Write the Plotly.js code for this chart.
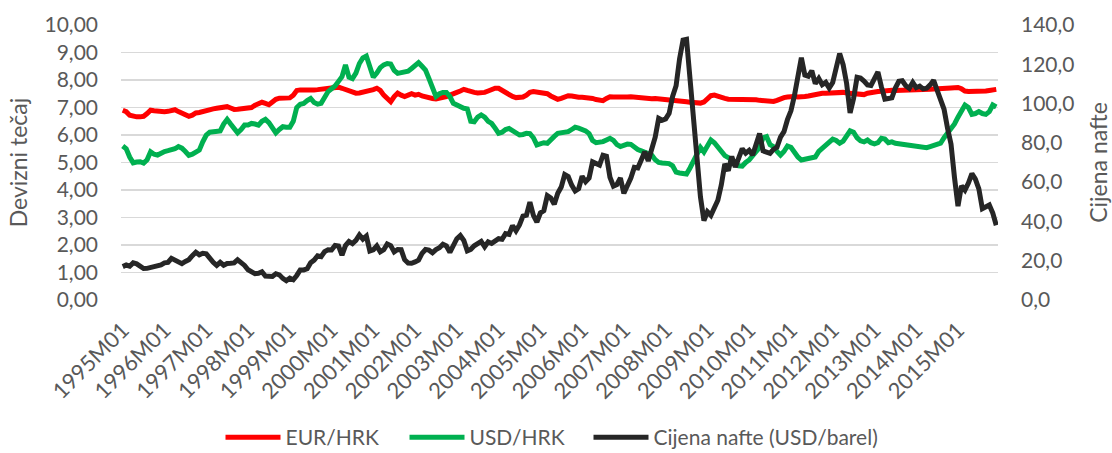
<!DOCTYPE html>
<html><head><meta charset="utf-8">
<script src="https://cdn.plot.ly/plotly-3.0.1.min.js"></script>
<style>html,body{margin:0;padding:0;background:#fff}#chart{width:1112px;height:453px}</style>
</head><body><div id="chart"></div>
<script>
const years = [1995,1996,1997,1998,1999,2000,2001,2002,2003,2004,2005,2006,2007,2008,2009,2010,2011,2012,2013,2014,2015];
const monthCodes = ['M01','M02','M03','M04','M05','M06','M07','M08','M09','M10','M11','M12'];
const tickLabels = ['1995M01','1996M01','1997M01','1998M01','1999M01','2000M01','2001M01','2002M01','2003M01','2004M01','2005M01','2006M01','2007M01','2008M01','2009M01','2010M01','2011M01','2012M01','2013M01','2014M01','2015M01'];

const eurHrk = [
 6.90,6.85,6.72,6.67,6.66,6.66,6.68,6.78,6.90,6.88,6.86,6.85,
 6.85,6.86,6.90,6.92,6.85,6.78,6.70,6.68,6.72,6.80,6.82,6.86,
 6.90,6.92,6.95,6.97,6.98,7.00,7.03,6.98,6.93,6.94,6.95,6.96,
 6.96,7.00,7.08,7.12,7.19,7.15,7.10,7.20,7.30,7.34,7.35,7.36,
 7.35,7.45,7.62,7.64,7.63,7.62,7.62,7.64,7.65,7.67,7.68,7.70,
 7.72,7.76,7.74,7.70,7.65,7.60,7.55,7.52,7.53,7.55,7.58,7.62,
 7.65,7.70,7.62,7.45,7.30,7.21,7.40,7.52,7.45,7.40,7.45,7.50,
 7.45,7.48,7.42,7.38,7.36,7.33,7.31,7.33,7.38,7.40,7.45,7.52,
 7.55,7.60,7.66,7.62,7.57,7.55,7.53,7.52,7.55,7.60,7.66,7.70,
 7.70,7.62,7.55,7.48,7.40,7.36,7.36,7.38,7.45,7.55,7.58,7.57,
 7.56,7.55,7.50,7.42,7.35,7.30,7.33,7.38,7.43,7.42,7.38,7.37,
 7.37,7.37,7.36,7.33,7.29,7.26,7.25,7.33,7.39,7.38,7.37,7.37,
 7.39,7.38,7.39,7.38,7.35,7.32,7.31,7.32,7.32,7.33,7.32,7.31,
 7.31,7.30,7.28,7.26,7.25,7.23,7.21,7.19,7.18,7.17,7.16,7.20,
 7.35,7.43,7.45,7.40,7.36,7.33,7.30,7.30,7.31,7.30,7.28,7.29,
 7.30,7.31,7.28,7.26,7.25,7.22,7.21,7.22,7.26,7.32,7.36,7.38,
 7.40,7.40,7.38,7.37,7.40,7.42,7.45,7.48,7.50,7.52,7.52,7.53,
 7.55,7.57,7.58,7.55,7.53,7.52,7.50,7.48,7.45,7.47,7.52,7.55,
 7.58,7.58,7.59,7.61,7.62,7.63,7.62,7.62,7.63,7.64,7.65,7.66,
 7.66,7.66,7.65,7.65,7.66,7.67,7.67,7.68,7.68,7.70,7.71,7.72,
 7.73,7.68,7.60,7.58,7.58,7.57,7.58,7.59,7.60,7.62,7.64,7.66
];

const usdHrk = [
 5.60,5.50,5.20,4.99,5.02,5.03,4.98,5.10,5.39,5.30,5.27,5.35,
 5.40,5.43,5.45,5.50,5.58,5.52,5.40,5.26,5.30,5.40,5.45,5.75,
 6.00,6.10,6.12,6.12,6.15,6.40,6.57,6.40,6.20,6.08,6.20,6.36,
 6.36,6.42,6.40,6.36,6.50,6.57,6.45,6.30,6.08,6.20,6.30,6.28,
 6.28,6.50,7.00,7.12,7.15,7.25,7.33,7.18,7.12,7.15,7.40,7.58,
 7.68,7.78,7.95,8.12,8.55,8.10,8.05,8.25,8.60,8.80,8.87,8.40,
 8.10,8.25,8.45,8.55,8.60,8.58,8.35,8.24,8.28,8.30,8.32,8.42,
 8.55,8.63,8.50,8.36,8.05,7.70,7.40,7.50,7.55,7.55,7.40,7.15,
 7.09,7.00,6.97,6.95,6.50,6.48,6.65,6.73,6.65,6.50,6.42,6.25,
 6.06,6.10,6.20,6.24,6.15,6.05,6.00,6.02,6.06,6.05,5.90,5.64,
 5.68,5.72,5.70,5.80,5.95,6.06,6.08,6.10,6.12,6.20,6.28,6.25,
 6.20,6.15,6.05,5.80,5.72,5.72,5.76,5.82,5.88,5.80,5.65,5.58,
 5.62,5.67,5.66,5.55,5.47,5.42,5.38,5.35,5.27,5.10,5.00,4.98,
 4.98,4.96,4.88,4.65,4.62,4.62,4.58,4.80,5.05,5.40,5.55,5.38,
 5.60,5.82,5.72,5.55,5.45,5.25,5.18,5.10,5.00,4.88,4.87,5.00,
 5.09,5.25,5.40,5.55,5.90,5.94,5.65,5.58,5.40,5.27,5.40,5.60,
 5.55,5.35,5.20,5.09,5.12,5.15,5.18,5.20,5.40,5.50,5.60,5.75,
 5.85,5.80,5.70,5.78,5.95,6.15,6.10,5.90,5.79,5.75,5.82,5.72,
 5.68,5.72,5.88,5.85,5.72,5.75,5.70,5.68,5.66,5.62,5.64,5.58,
 5.60,5.58,5.54,5.54,5.58,5.62,5.64,5.70,5.90,6.05,6.20,6.40,
 6.65,6.90,7.09,7.00,6.75,6.78,6.85,6.78,6.75,6.85,7.09,7.02
];

const oilPrice = [
 17.0,17.8,17.2,18.9,18.4,17.3,16.0,16.1,16.6,16.5,17.0,17.9,
 18.9,19.1,21.2,20.4,19.1,18.5,19.6,20.5,22.6,24.3,23.0,23.8,
 23.5,20.8,19.2,17.6,19.2,17.7,18.6,18.7,18.9,20.5,19.2,17.6,
 15.4,14.1,13.4,13.6,14.4,12.2,12.1,12.0,13.4,12.8,11.0,9.8,
 11.1,10.3,12.5,15.3,15.3,15.9,19.0,20.3,22.5,22.1,24.6,25.6,
 25.5,27.8,27.5,22.8,27.7,29.8,28.7,30.4,33.1,31.0,32.5,25.0,
 25.6,27.5,24.5,25.6,28.5,27.7,24.5,25.7,25.6,20.5,18.8,18.7,
 19.4,20.3,23.7,25.7,25.4,24.1,25.7,26.6,28.4,27.5,24.3,28.0,
 31.2,32.8,30.3,25.0,25.8,27.6,28.4,29.8,27.1,29.6,28.8,29.8,
 31.2,30.9,33.8,33.4,37.9,35.2,38.2,42.7,43.2,49.8,43.1,39.7,
 44.3,45.5,53.1,51.9,48.7,54.3,57.5,63.9,62.9,58.5,55.5,56.7,
 63.0,60.2,62.1,70.3,69.8,68.7,73.7,73.2,62.5,58.0,58.8,62.1,
 54.3,57.8,62.1,67.5,67.2,71.3,75.5,70.8,77.1,82.9,92.5,91.5,
 92.2,95.0,103.6,109.1,122.8,132.3,132.7,113.2,97.1,71.7,52.5,40.4,
 44.9,43.1,46.8,50.8,58.6,69.3,65.8,73.1,67.7,73.2,77.0,74.7,
 76.2,73.8,78.8,84.8,75.9,75.0,74.7,76.7,77.8,82.9,85.7,91.8,
 96.3,104.0,114.6,123.3,114.5,113.9,116.7,110.2,112.8,109.6,110.8,107.9,
 110.7,119.3,125.5,119.8,110.3,95.2,102.6,113.4,113.0,111.5,109.5,109.2,
 112.3,116.1,108.5,102.3,102.6,102.9,107.9,111.3,111.6,109.1,107.8,110.8,
 108.1,108.9,107.5,107.8,109.5,111.8,106.8,101.6,97.1,87.4,79.4,62.3,
 47.8,58.1,55.9,59.5,64.3,61.5,56.6,46.5,47.6,48.4,44.3,38.0
];

const months = [];
years.forEach(function (y) { monthCodes.forEach(function (m) { months.push(y + m); }); });

const seriesNames = ['EUR/HRK', 'USD/HRK', 'Cijena nafte (USD/barel)'];
const tickColor = '#595959';
const fontFamily = 'Lato, "Open Sans", sans-serif';

const traces = [
  {x: months, y: eurHrk, name: seriesNames[0], type: 'scatter', mode: 'lines',
   line: {color: '#FF0000', width: 5}, yaxis: 'y', legendwidth: 114},
  {x: months, y: usdHrk, name: seriesNames[1], type: 'scatter', mode: 'lines',
   line: {color: '#00B050', width: 5}, yaxis: 'y', legendwidth: 114},
  {x: months, y: oilPrice, name: seriesNames[2], type: 'scatter', mode: 'lines',
   line: {color: '#262626', width: 5}, yaxis: 'y2', legendwidth: 240}
];

const layout = {
  width: 1112, height: 453,
  margin: {l: 121, r: 114, t: 25, b: 153, pad: 0, autoexpand: false},
  paper_bgcolor: '#ffffff', plot_bgcolor: '#ffffff',
  separators: ',.',
  font: {family: fontFamily, color: tickColor, size: 20},
  showlegend: true,
  legend: {orientation: 'h', x: 0.5, xanchor: 'center', y: -0.5, yanchor: 'middle',
           itemwidth: 55, font: {family: fontFamily, size: 21, color: tickColor}, traceorder: 'normal'},
  xaxis: {type: 'category', categoryorder: 'array', categoryarray: months,
          tickmode: 'array', tickvals: tickLabels, ticktext: tickLabels,
          tickangle: -45, showgrid: false, zeroline: false, showline: false, ticks: '',
          ticklabelstandoff: 12,
          tickfont: {family: fontFamily, size: 22, color: tickColor},
          range: [-0.5, months.length - 0.5], automargin: false},
  yaxis: {range: [0, 10], tick0: 0, dtick: 1, tickformat: '.2f',
          showgrid: true, gridcolor: '#d9d9d9', gridwidth: 1.3,
          zeroline: false, showline: false, ticks: '', ticklabelstandoff: 22,
          tickfont: {family: fontFamily, size: 21, color: tickColor},
          title: {text: 'Devizni tečaj', font: {family: fontFamily, size: 23, color: tickColor}, standoff: 10},
          automargin: false},
  yaxis2: {overlaying: 'y', side: 'right', range: [0, 140], tick0: 0, dtick: 20, tickformat: '.1f',
           showgrid: false, zeroline: false, showline: false, ticks: '', ticklabelstandoff: 22,
           tickfont: {family: fontFamily, size: 21, color: tickColor},
           title: {text: 'Cijena nafte', font: {family: fontFamily, size: 23, color: tickColor}, standoff: 18},
           automargin: false}
};

Plotly.newPlot('chart', traces, layout, {displayModeBar: false, staticPlot: true});
</script>
</body></html>
